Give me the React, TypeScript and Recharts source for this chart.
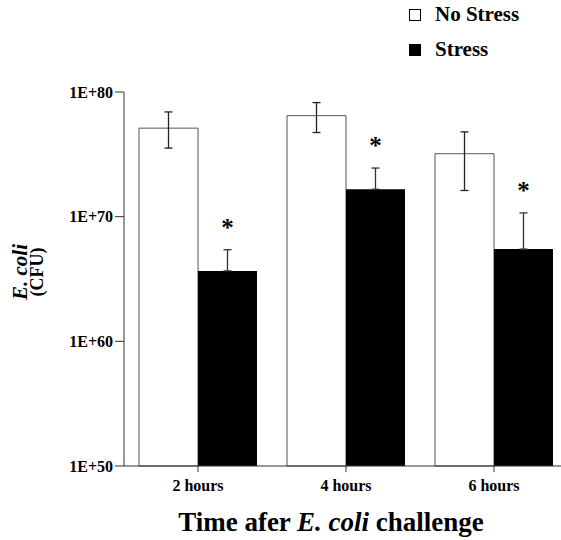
import { BarChart, Bar, XAxis, YAxis, ErrorBar, LabelList } from 'recharts'

// values are log10(CFU)
const times = ['2 hours', '4 hours', '6 hours']
const noStress = [77.1, 78.1, 75.05]
const noStressErr: [number, number][] = [[1.6, 1.3], [1.35, 1.05], [2.95, 1.75]]
const stress = [65.65, 72.2, 67.4]
const stressErr: [number, number][] = [[0, 1.7], [0, 1.7], [0, 2.9]]
const yTicks = [50, 60, 70, 80]
const legendItems = [
  { label: 'No Stress', fill: '#fff' },
  { label: 'Stress', fill: '#000' },
]

const data = times.map((t, i) => ({
  time: t,
  noStress: noStress[i],
  noStressErr: noStressErr[i],
  stress: stress[i],
  stressErr: stressErr[i],
}))

const FONT = "'Liberation Serif', 'Times New Roman', serif"

function Star(props: any) {
  const { x, y, width, height, index, value } = props
  const per = height / (value - 50)
  const top = y - stressErr[index][1] * per
  return (
    <text x={x + width / 2} y={top - 14} textAnchor="middle"
      fontFamily={FONT} fontWeight="bold" fontSize={25} fill="#000">*</text>
  )
}

function LegendBox() {
  return (
    <svg width={160} height={70} style={{ position: 'absolute', left: 400, top: 0 }}>
      {legendItems.map((it, i) => (
        <g key={it.label} transform={`translate(0, ${i * 35})`}>
          <rect x={9.5} y={9.5} width={11} height={11} fill={it.fill} stroke="#000" strokeWidth={1} />
          <text x={35} y={21} fontFamily={FONT} fontWeight="bold" fontSize={21} fill="#000">{it.label}</text>
        </g>
      ))}
    </svg>
  )
}

function YLabel() {
  return (
    <g transform="translate(0, 272) rotate(-90)">
      <text x={0} y={27} textAnchor="middle" fontFamily={FONT} fontWeight="bold"
        fontStyle="italic" fontSize={21} fill="#000">E. coli</text>
      <text x={0} y={43} textAnchor="middle" fontFamily={FONT} fontWeight="bold"
        fontSize={18} fill="#000">(CFU)</text>
    </g>
  )
}

function XTitle(props: any) {
  const { viewBox } = props
  const cx = viewBox.x + viewBox.width / 2 - 15
  return (
    <text x={cx} y={531} textAnchor="middle" fontFamily={FONT} fontWeight="bold" fontSize={27} fill="#000">
      Time afer <tspan fontStyle="italic">E. coli</tspan> challenge
    </text>
  )
}

export default function App() {
  return (
    <div style={{ position: 'absolute', left: 0, top: 0, width: 561, height: 540, overflow: 'hidden', background: '#fff' }}>
      <BarChart width={580} height={540} data={data}
        margin={{ top: 92, right: 12, left: 0, bottom: 44 }}
        barCategoryGap={15} barGap={0}>
        <XAxis dataKey="time" tickSize={6} tickMargin={8} stroke="#333"
          tick={{ fontFamily: FONT, fontWeight: 'bold', fontSize: 16, fill: '#000' }}
          height={30} label={<XTitle />} />
        <YAxis type="number" domain={[50, 80]} ticks={yTicks} width={124}
          tickFormatter={(v: number) => `1E+${v}`} tickSize={9} tickMargin={2} stroke="#333"
          tick={{ fontFamily: FONT, fontWeight: 'bold', fontSize: 16, fill: '#000' }}
          label={<YLabel />} />
        <Bar dataKey="noStress" name="No Stress" fill="#fff" stroke="#555" strokeWidth={1} isAnimationActive={false}>
          <ErrorBar dataKey="noStressErr" width={4} stroke="#222" strokeWidth={1.3} isAnimationActive={false} />
        </Bar>
        <Bar dataKey="stress" name="Stress" fill="#000" isAnimationActive={false}>
          <ErrorBar dataKey="stressErr" width={4} stroke="#333" strokeWidth={1.3} isAnimationActive={false} />
          <LabelList dataKey="stress" content={<Star />} />
        </Bar>
      </BarChart>
      <LegendBox />
    </div>
  )
}
